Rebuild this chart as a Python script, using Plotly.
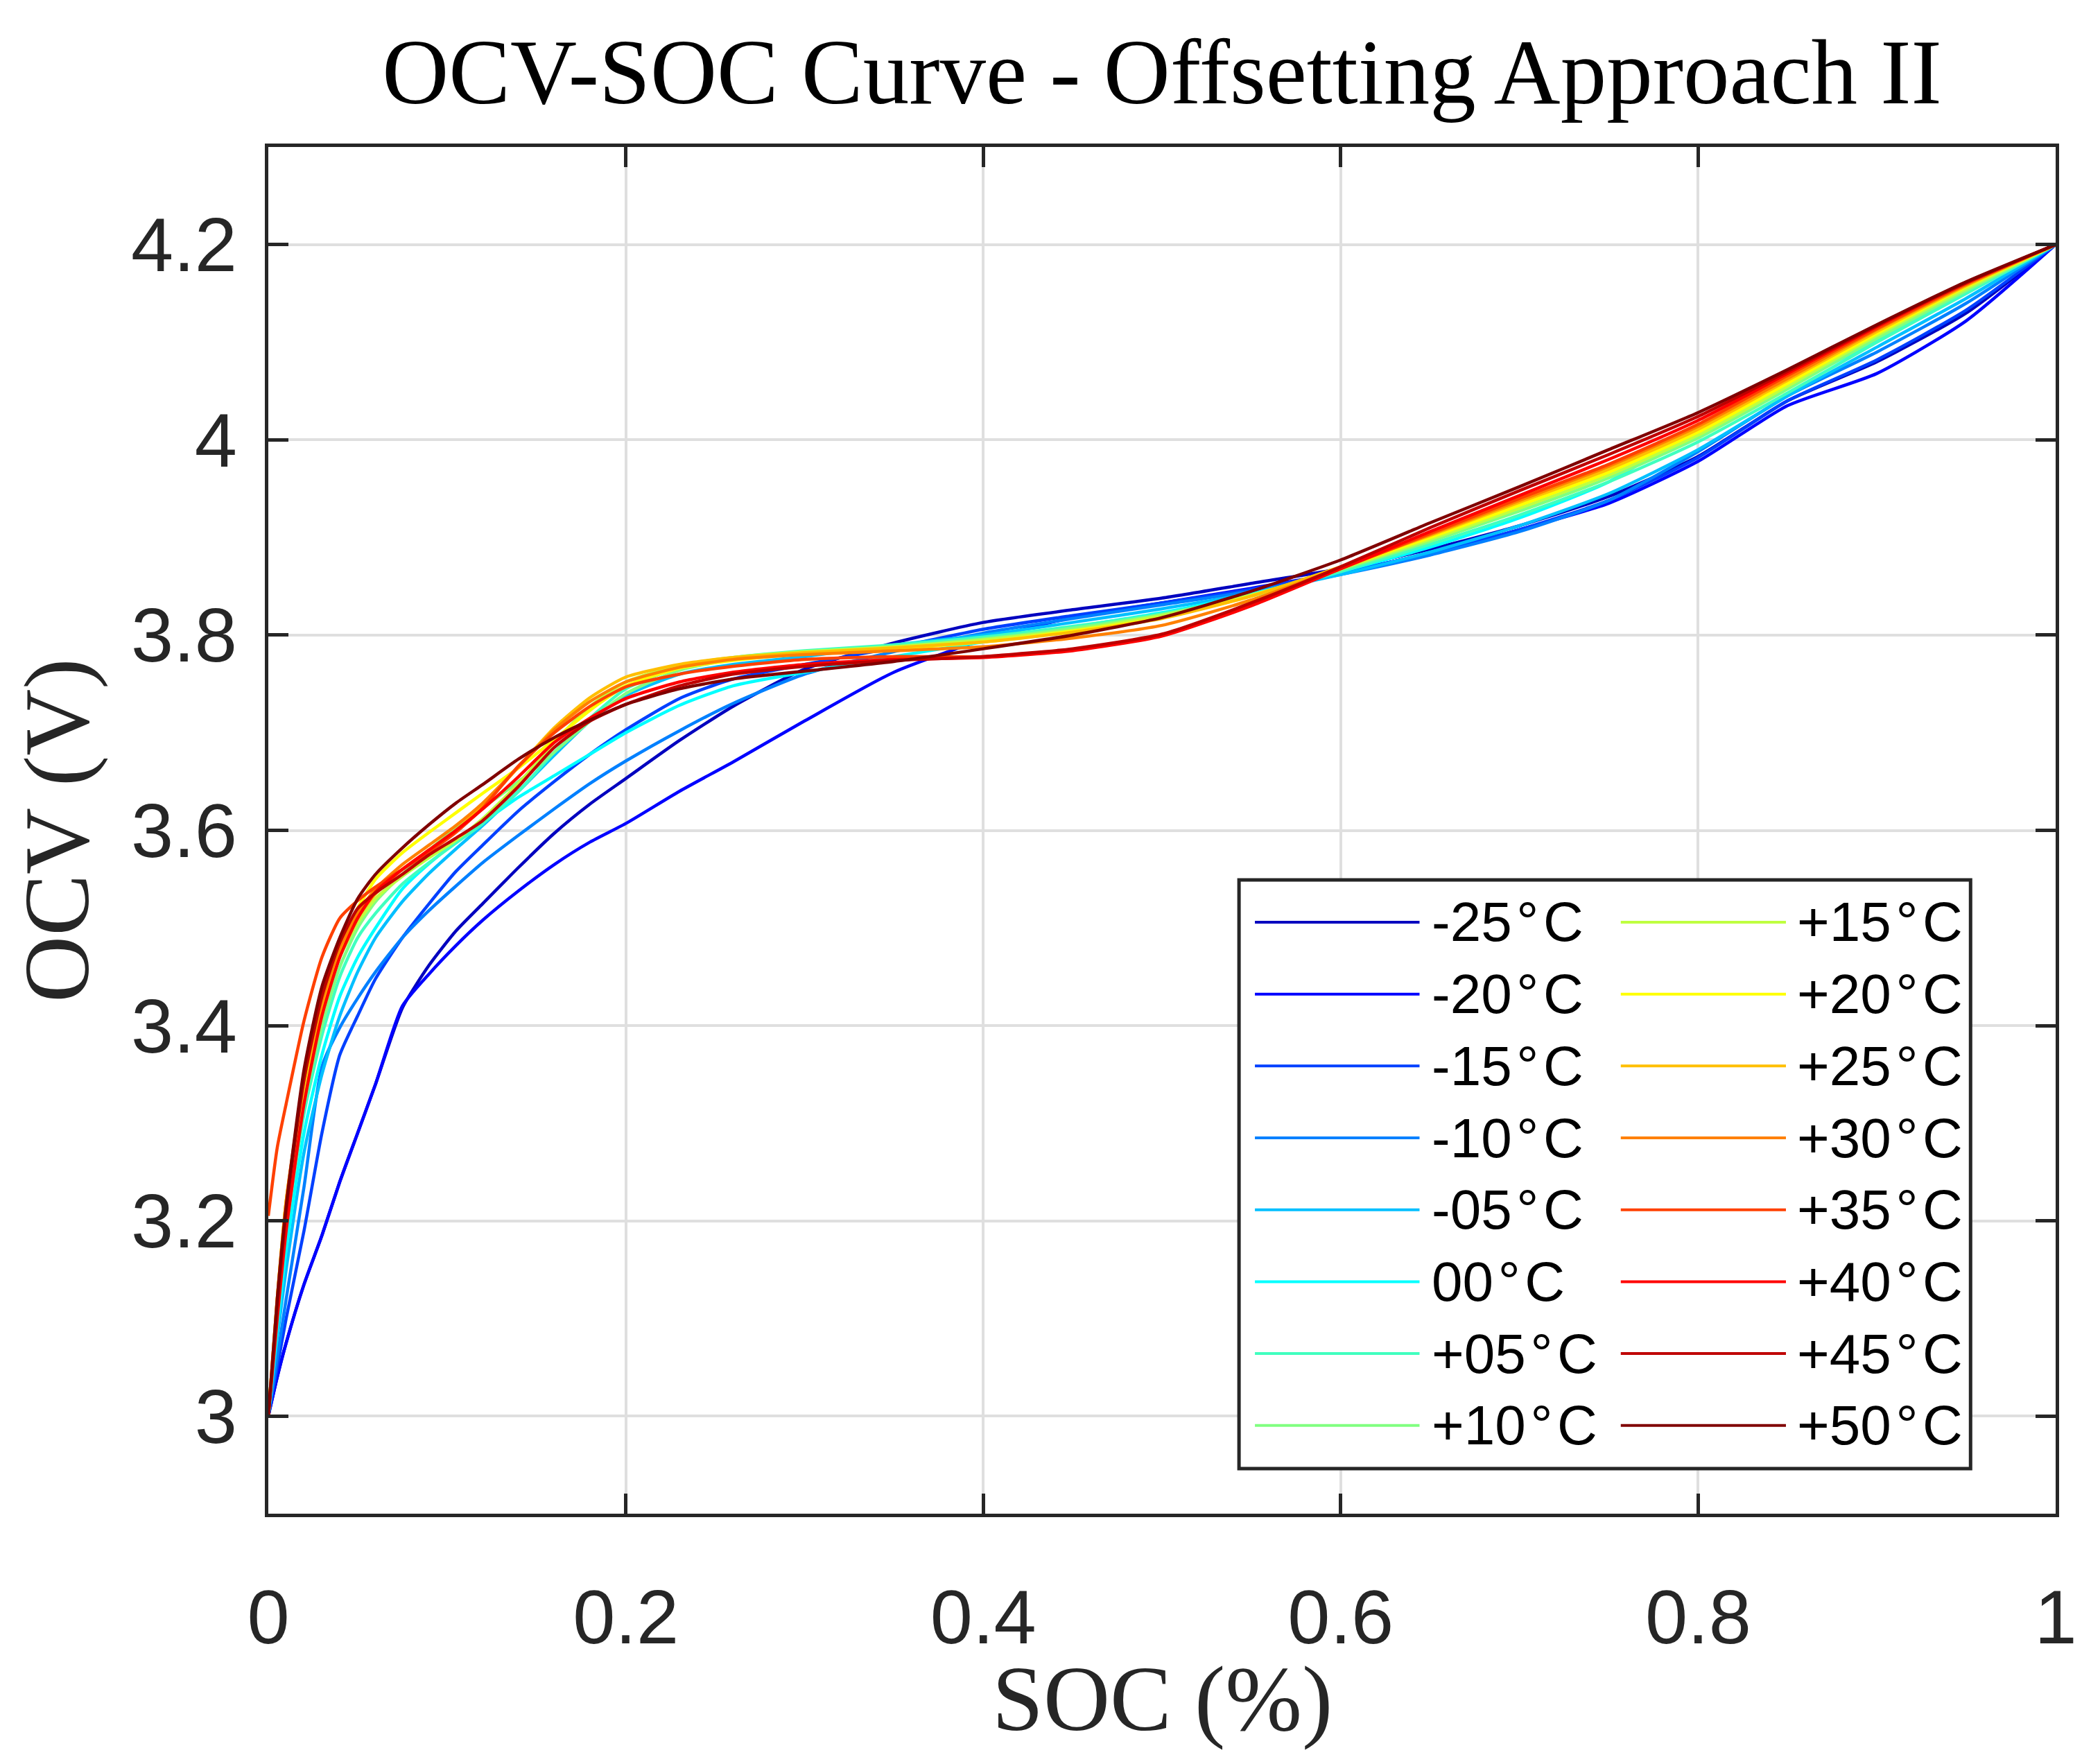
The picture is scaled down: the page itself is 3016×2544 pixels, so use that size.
import plotly.graph_objects as go

# SOC grid shared by every temperature curve
soc = [0, 0.005, 0.01, 0.02, 0.03, 0.04, 0.05, 0.06, 0.075, 0.09, 0.105, 0.12, 0.14, 0.16, 0.18, 0.20,
       0.23, 0.26, 0.30, 0.35, 0.40, 0.45, 0.50, 0.55, 0.60, 0.65, 0.70, 0.75, 0.80, 0.85, 0.90, 0.95, 1.0]

temps = ['-25°C', '-20°C', '-15°C', '-10°C', '-05°C', '00°C', '+05°C', '+10°C',
         '+15°C', '+20°C', '+25°C', '+30°C', '+35°C', '+40°C', '+45°C', '+50°C']

# jet(16)
colors = ['rgb(0,0,191)', 'rgb(0,0,255)', 'rgb(0,64,255)', 'rgb(0,128,255)',
          'rgb(0,191,255)', 'rgb(0,255,255)', 'rgb(64,255,191)', 'rgb(128,255,128)',
          'rgb(191,255,64)', 'rgb(255,255,0)', 'rgb(255,191,0)', 'rgb(255,128,0)',
          'rgb(255,64,0)', 'rgb(255,0,0)', 'rgb(191,0,0)', 'rgb(128,0,0)']

# OCV (V) per temperature
ocv_m25 = [3.000, 3.040, 3.075, 3.135, 3.185, 3.240, 3.290, 3.340, 3.418, 3.462, 3.497, 3.525, 3.562, 3.597, 3.627, 3.653,
           3.692, 3.727, 3.765, 3.792, 3.813, 3.826, 3.838, 3.853, 3.868, 3.888, 3.912, 3.942, 3.983, 4.040, 4.080, 4.130, 4.200]
ocv_m20 = [3.000, 3.040, 3.075, 3.135, 3.185, 3.240, 3.290, 3.340, 3.420, 3.453, 3.482, 3.508, 3.538, 3.565, 3.588, 3.607,
           3.640, 3.670, 3.712, 3.762, 3.795, 3.818, 3.833, 3.848, 3.864, 3.884, 3.908, 3.935, 3.978, 4.035, 4.068, 4.122, 4.200]
ocv_m15 = [3.000, 3.050, 3.100, 3.190, 3.290, 3.370, 3.410, 3.448, 3.490, 3.525, 3.558, 3.585, 3.620, 3.650, 3.678, 3.703,
           3.735, 3.755, 3.770, 3.787, 3.806, 3.820, 3.833, 3.847, 3.864, 3.884, 3.908, 3.938, 3.982, 4.040, 4.082, 4.133, 4.200]
ocv_m10 = [3.000, 3.060, 3.120, 3.235, 3.358, 3.398, 3.428, 3.455, 3.490, 3.518, 3.543, 3.567, 3.595, 3.622, 3.648, 3.671,
           3.702, 3.730, 3.760, 3.783, 3.802, 3.817, 3.831, 3.845, 3.862, 3.882, 3.906, 3.938, 3.988, 4.045, 4.090, 4.140, 4.200]
ocv_m05 = [3.000, 3.080, 3.150, 3.270, 3.350, 3.410, 3.455, 3.490, 3.527, 3.556, 3.581, 3.605, 3.640, 3.677, 3.712, 3.738,
           3.760, 3.770, 3.778, 3.790, 3.800, 3.813, 3.827, 3.843, 3.862, 3.885, 3.912, 3.945, 3.990, 4.045, 4.095, 4.145, 4.200]
ocv_00 = [3.000, 3.090, 3.170, 3.290, 3.370, 3.430, 3.470, 3.500, 3.540, 3.566, 3.588, 3.608, 3.634, 3.656, 3.678, 3.700,
          3.728, 3.748, 3.762, 3.778, 3.793, 3.808, 3.823, 3.842, 3.865, 3.890, 3.920, 3.957, 4.012, 4.055, 4.102, 4.152, 4.200]
ocv_p05 = [3.000, 3.100, 3.190, 3.310, 3.390, 3.450, 3.490, 3.515, 3.545, 3.567, 3.587, 3.607, 3.640, 3.680, 3.715, 3.745,
           3.767, 3.777, 3.784, 3.790, 3.798, 3.809, 3.822, 3.840, 3.865, 3.893, 3.923, 3.957, 3.998, 4.048, 4.100, 4.150, 4.200]
ocv_p10 = [3.000, 3.110, 3.200, 3.320, 3.400, 3.460, 3.500, 3.527, 3.555, 3.580, 3.602, 3.623, 3.650, 3.680, 3.712, 3.740,
           3.764, 3.775, 3.782, 3.788, 3.796, 3.807, 3.821, 3.841, 3.867, 3.896, 3.927, 3.961, 4.002, 4.052, 4.104, 4.153, 4.200]
ocv_p15 = [3.000, 3.110, 3.210, 3.330, 3.410, 3.470, 3.505, 3.530, 3.553, 3.572, 3.590, 3.612, 3.648, 3.690, 3.727, 3.752,
           3.769, 3.777, 3.783, 3.788, 3.795, 3.805, 3.820, 3.841, 3.868, 3.898, 3.930, 3.964, 4.005, 4.055, 4.107, 4.155, 4.200]
ocv_p20 = [3.000, 3.120, 3.220, 3.340, 3.420, 3.480, 3.520, 3.550, 3.577, 3.598, 3.618, 3.638, 3.664, 3.693, 3.723, 3.748,
           3.766, 3.774, 3.781, 3.786, 3.793, 3.804, 3.818, 3.840, 3.869, 3.900, 3.933, 3.967, 4.008, 4.058, 4.109, 4.157, 4.200]
ocv_p25 = [3.000, 3.120, 3.220, 3.340, 3.420, 3.475, 3.510, 3.535, 3.560, 3.580, 3.600, 3.625, 3.665, 3.705, 3.736, 3.757,
           3.770, 3.777, 3.782, 3.787, 3.793, 3.803, 3.817, 3.840, 3.870, 3.902, 3.936, 3.970, 4.011, 4.061, 4.111, 4.158, 4.200]
ocv_p30 = [3.000, 3.120, 3.220, 3.345, 3.425, 3.480, 3.515, 3.540, 3.565, 3.585, 3.605, 3.628, 3.665, 3.703, 3.732, 3.752,
           3.767, 3.775, 3.780, 3.784, 3.788, 3.797, 3.810, 3.836, 3.869, 3.903, 3.938, 3.973, 4.014, 4.063, 4.113, 4.159, 4.200]
ocv_p35 = [3.205, 3.275, 3.320, 3.405, 3.470, 3.510, 3.528, 3.542, 3.560, 3.578, 3.598, 3.623, 3.666, 3.700, 3.727, 3.747,
           3.760, 3.768, 3.775, 3.778, 3.778, 3.785, 3.800, 3.832, 3.868, 3.904, 3.940, 3.975, 4.016, 4.066, 4.114, 4.160, 4.200]
ocv_p40 = [3.000, 3.100, 3.190, 3.320, 3.410, 3.470, 3.510, 3.537, 3.560, 3.580, 3.600, 3.622, 3.655, 3.690, 3.715, 3.735,
           3.752, 3.762, 3.770, 3.775, 3.777, 3.784, 3.799, 3.830, 3.868, 3.906, 3.943, 3.980, 4.020, 4.068, 4.116, 4.161, 4.200]
ocv_p45 = [3.000, 3.110, 3.210, 3.345, 3.430, 3.485, 3.520, 3.536, 3.555, 3.575, 3.592, 3.610, 3.645, 3.685, 3.712, 3.729,
           3.748, 3.760, 3.768, 3.774, 3.778, 3.786, 3.801, 3.833, 3.870, 3.910, 3.948, 3.985, 4.024, 4.070, 4.117, 4.161, 4.200]
ocv_p50 = [3.000, 3.120, 3.215, 3.355, 3.440, 3.490, 3.530, 3.555, 3.582, 3.606, 3.628, 3.647, 3.673, 3.695, 3.713, 3.729,
           3.745, 3.755, 3.763, 3.773, 3.786, 3.800, 3.818, 3.845, 3.877, 3.915, 3.952, 3.990, 4.028, 4.072, 4.118, 4.162, 4.200]

curves = [ocv_m25, ocv_m20, ocv_m15, ocv_m10, ocv_m05, ocv_00, ocv_p05, ocv_p10,
          ocv_p15, ocv_p20, ocv_p25, ocv_p30, ocv_p35, ocv_p40, ocv_p45, ocv_p50]

y_ticks = [3.0, 3.2, 3.4, 3.6, 3.8, 4.0, 4.2]
y_ticktext = ['3', '3.2', '3.4', '3.6', '3.8', '4', '4.2']
x_ticks = [0, 0.2, 0.4, 0.6, 0.8, 1.0]
x_ticktext = ['0', '0.2', '0.4', '0.6', '0.8', '1']

axis_col = '#262626'
sans = 'Liberation Sans, Arial, Helvetica, sans-serif'
serif = 'Liberation Serif, Times New Roman, serif'

fig = go.Figure()
for name, col, v in zip(temps, colors, curves):
    fig.add_trace(go.Scatter(x=soc, y=v, mode='lines', name=name, showlegend=False,
                             line=dict(color=col, width=4.5, shape='spline', smoothing=0.6)))

# legend drawn by hand, MATLAB style (two columns, long line samples)
shapes = [dict(type='rect', xref='paper', yref='paper', x0=0.5431, x1=0.9524, y0=0.0330, y1=0.4637,
               fillcolor='white', line=dict(color=axis_col, width=5), layer='above')]
annotations = []
for k, (name, col) in enumerate(zip(temps, colors)):
    row = k % 8
    col_i = k // 8
    yy = 0.4328 - 0.05261 * row
    lx0, lx1, tx = (0.5520, 0.6441, 0.6500) if col_i == 0 else (0.7567, 0.8491, 0.8547)
    shapes.append(dict(type='line', xref='paper', yref='paper', x0=lx0, x1=lx1, y0=yy, y1=yy,
                       line=dict(color=col, width=4), layer='above'))
    label = name.replace('°', '\u200a°\u200a')
    annotations.append(dict(xref='paper', yref='paper', x=tx, y=yy, text=label, showarrow=False,
                            xanchor='left', yanchor='middle', font=dict(family=sans, size=80, color='black')))

# x-axis title as an annotation so it can sit closer to the tick labels
annotations.append(dict(xref='paper', yref='paper', x=0.5, y=-0.097, text='SOC (%)', showarrow=False,
                        xanchor='center', yanchor='top', font=dict(family=serif, size=133, color=axis_col)))

# page body keeps its default 8px margin, so the figure is 16px smaller than the window
fig.update_layout(
    width=3000, height=2528,
    margin=dict(l=379, r=36, t=204, b=353),
    paper_bgcolor='white', plot_bgcolor='white',
    title=dict(text='OCV-SOC Curve - Offsetting Approach II', x=0.5, xref='paper',
               y=1 - 94 / 2528, yref='container', yanchor='middle', xanchor='center',
               font=dict(family=serif, size=133, color='black')),
    shapes=shapes, annotations=annotations,
)

fig.update_xaxes(range=[0, 1], tickvals=x_ticks, ticktext=x_ticktext,
                 showline=True, linecolor=axis_col, linewidth=5, mirror='ticks',
                 ticks='inside', ticklen=29, tickwidth=5, tickcolor=axis_col,
                 showgrid=True, gridcolor='#dfdfdf', gridwidth=4, zeroline=False,
                 tickfont=dict(family=sans, size=110, color=axis_col), ticklabelstandoff=50)
fig.update_yaxes(range=[2.9, 4.3], tickvals=y_ticks, ticktext=y_ticktext,
                 showline=True, linecolor=axis_col, linewidth=5, mirror='ticks',
                 ticks='inside', ticklen=29, tickwidth=5, tickcolor=axis_col,
                 showgrid=True, gridcolor='#dfdfdf', gridwidth=4, zeroline=False,
                 tickfont=dict(family=sans, size=110, color=axis_col), ticklabelstandoff=18,
                 title=dict(text='OCV (V)', font=dict(family=serif, size=133, color=axis_col), standoff=44))

fig.write_html("out.html")
